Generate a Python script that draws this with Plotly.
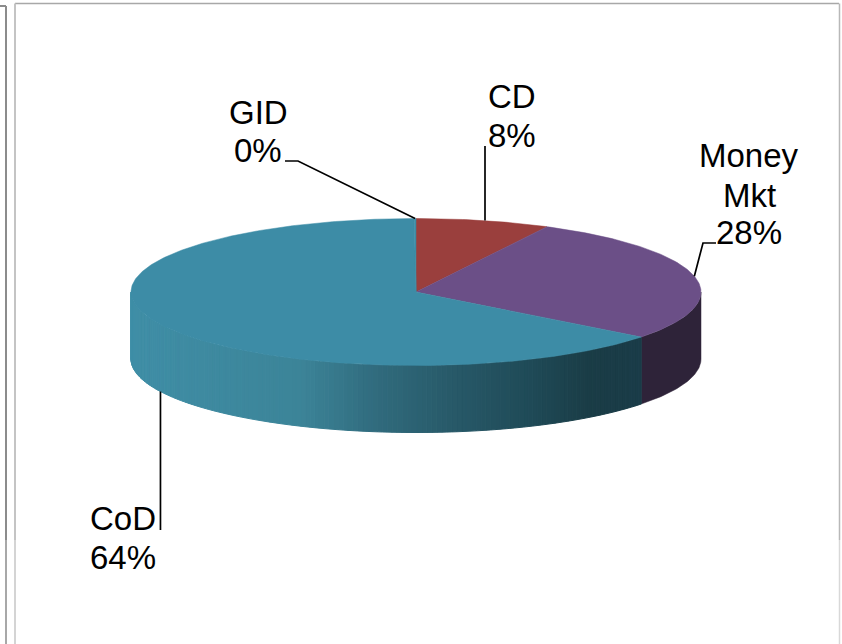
import math
import plotly.graph_objects as go

# ---- data ----
categories = ["CD", "Money Mkt", "CoD", "GID"]
label_lines = [["CD"], ["Money", "Mkt"], ["CoD"], ["GID"]]
values = [7.6, 27.9, 64.4, 0.1]
top_colors = ["#9A3F3D", "#6B4F87", "#3D8CA6", "#3D8CA6"]
side_colors = ["#6E2D2B", "#2E2339", None, "#3D8CA6"]
cod_gradient_x = [131, 300, 380, 450, 530, 590, 640]
cod_gradient_rgb = [(63, 142, 166), (60, 132, 152), (48, 106, 124), (40, 90, 105), (31, 74, 87), (26, 60, 70), (26, 60, 72)]

# projection of the tilted pie, in page pixels
W, H = 842, 644
CX, CY, RX, RY, DEPTH = 416, 292, 285, 73.5, 67


def pt(deg, drop=0.0):
    a = math.radians(deg)
    return CX + RX * math.sin(a), CY - RY * math.cos(a) + drop


def arc(a0, a1, drop=0.0):
    n = max(2, int(abs(a1 - a0) * 1.5))
    return [pt(a0 + (a1 - a0) * i / n, drop) for i in range(n + 1)]


def grad(x):
    xs, cs = cod_gradient_x, cod_gradient_rgb
    if x <= xs[0]:
        return cs[0]
    for i in range(len(xs) - 1):
        if x <= xs[i + 1]:
            f = (x - xs[i]) / (xs[i + 1] - xs[i])
            return tuple(cs[i][k] + (cs[i + 1][k] - cs[i][k]) * f for k in range(3))
    return cs[-1]


def poly(points, color, line=0):
    return go.Scatter(
        x=[p[0] for p in points] + [points[0][0]],
        y=[p[1] for p in points] + [points[0][1]],
        mode="lines", fill="toself", fillcolor=color,
        line=dict(color=color, width=line), hoverinfo="skip", showlegend=False,
    )


fig = go.Figure()

# slice angles from the values
edges = [0.0]
for v in values:
    edges.append(edges[-1] + v * 3.6)
start = {c: (edges[i], edges[i + 1]) for i, c in enumerate(categories)}

# walls of the slices that face the viewer
m0, m1 = start["Money Mkt"]
c0, c1 = start["CoD"]
fig.add_trace(poly(arc(90, m1) + arc(m1, 90, DEPTH), side_colors[1], 0.5))
STEP = 1.0
a = c0
while a < 270:
    b = min(a + STEP, 270)
    xm = pt((a + b) / 2)[0]
    r, g_, bl = grad(xm)
    col = f"rgb({r:.0f},{g_:.0f},{bl:.0f})"
    fig.add_trace(poly(arc(a, b) + arc(b, a, DEPTH), col, 1))
    a = b

# top faces
for i, c in enumerate(categories):
    a0, a1 = edges[i], edges[i + 1]
    fig.add_trace(poly([(CX, CY)] + arc(a0, a1), top_colors[i], 0.5))

# leader lines and labels, anchored at each slice's mid angle
elbows = {
    "CD": [(None, 146)],
    "Money Mkt": [(703, 243), (716, 243)],
    "CoD": [(None, 530)],
    "GID": [(298, 161), (285, 161)],
}
anchor_dx = {"CD": 1.6, "Money Mkt": 0, "CoD": 0, "GID": 0}
label_x = {"CD": 512, "Money Mkt": 749, "CoD": 123, "GID": 258}
label_y = {"CD": [96, 135], "Money Mkt": [155, 195, 232], "CoD": [518, 557], "GID": [112, 150]}
for i, c in enumerate(categories):
    mid = (edges[i] + edges[i + 1]) / 2
    drop = DEPTH if c == "CoD" else 0
    px, py = pt(mid, drop)
    px += anchor_dx[c]
    pts = [(px, py)] + [(px if ex is None else ex, ey) for ex, ey in elbows[c]]
    fig.add_trace(go.Scatter(x=[p[0] for p in pts], y=[p[1] for p in pts], mode="lines",
                             line=dict(color="#000000", width=1.7), hoverinfo="skip", showlegend=False))
    for line_text, y in zip(label_lines[i] + [f"{values[i]:.0f}%"], label_y[c]):
        fig.add_annotation(x=label_x[c], y=y, xref="x", yref="y",
                           text=line_text, showarrow=False,
                           font=dict(family="Liberation Sans", size=33, color="#000000"),
                           align="center", xanchor="center", yanchor="middle")

# panel frames
frames = [
    (0, 6, 6, 6, "#8c8c8c", 2), (6, 6, 6, 540, "#8c8c8c", 2), (6, 540, 6, 644, "#a8a8a8", 2),
    (15, 3.5, 839, 3.5, "#a8a8a8", 1.5), (15, 3.5, 15, 540, "#c4c4c4", 2), (15, 540, 15, 644, "#d4d4d4", 2),
    (839.5, 3.5, 839.5, 540, "#b8b8b8", 1.5), (839.5, 540, 839.5, 644, "#d8d8d8", 1.5),
]
shapes = [dict(type="line", xref="x", yref="y", x0=a, y0=b, x1=c, y1=d, line=dict(color=col, width=w), layer="below")
          for a, b, c, d, col, w in frames]

fig.update_layout(
    width=W, height=H, margin=dict(l=0, r=0, t=0, b=0),
    paper_bgcolor="#ffffff", plot_bgcolor="#ffffff", showlegend=False, shapes=shapes,
    xaxis=dict(range=[0, W], visible=False, fixedrange=True),
    yaxis=dict(range=[H, 0], visible=False, fixedrange=True),
)
fig.write_html("out.html", config={"displayModeBar": False},
               post_script="document.body.style.margin='0';document.body.style.overflow='hidden';")
